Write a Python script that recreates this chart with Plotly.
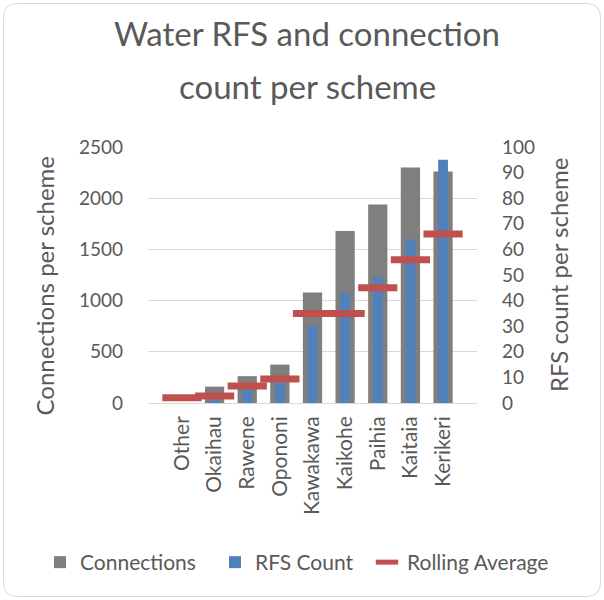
import plotly.graph_objects as go

# Water schemes, ordered by connection count
schemes = ["Other", "Okaihau", "Rawene", "Opononi", "Kawakawa",
           "Kaikohe", "Paihia", "Kaitaia", "Kerikeri"]
connections = [0, 160, 262, 375, 1080, 1680, 1940, 2300, 2260]
rfs_count = [0, 2, 5, 8, 30, 43, 49, 64, 95]
rolling_average = [2.1, 2.7, 6.6, 9.4, 35, 35, 45, 56, 66]

left_ticks = [0, 500, 1000, 1500, 2000, 2500]
right_ticks = list(range(0, 101, 10))

FONT = "Lato"
TEXT = "#595959"
GRID = "#d9d9d9"

W, H = 604, 600
L, R, T, B = 148, 127, 147, 197
PW, PH = W - L - R, H - T - B


def fx(px):
    """Pixel column -> paper x."""
    return (px - L) / PW


def fy(py):
    """Pixel row -> paper y."""
    return (H - B - py) / PH


def legend_at(left_px, mid_py):
    """One-entry legend placed in container pixels."""
    return dict(
        orientation="h", xref="container", yref="container",
        x=left_px / W, xanchor="left",
        y=1 - mid_py / H, yanchor="middle",
        font=dict(family=FONT, size=21, color=TEXT),
        bgcolor="rgba(0,0,0,0)",
    )


fig = go.Figure()

fig.add_trace(go.Bar(
    x=schemes, y=connections, name="Connections",
    marker=dict(color="#7f7f7f", line=dict(width=0)),
    width=0.59, yaxis="y", legend="legend",
))
fig.add_trace(go.Bar(
    x=schemes, y=rfs_count, name="RFS Count",
    marker=dict(color="#4f81bd", line=dict(width=0)),
    width=0.30, yaxis="y2", legend="legend2",
))
fig.add_trace(go.Scatter(
    x=schemes, y=rolling_average, name="Rolling Average",
    mode="markers", yaxis="y2", legend="legend3",
    marker=dict(symbol="line-ew", size=28,
                line=dict(color="#c0504d", width=7), color="#c0504d"),
))

# Rounded chart border
x0, x1 = fx(3.5), fx(600.5)
y0, y1 = fy(596.5), fy(3.5)
rx, ry = 14 / PW, 14 / PH
border = (
    f"M{x0 + rx},{y1} L{x1 - rx},{y1} Q{x1},{y1} {x1},{y1 - ry} "
    f"L{x1},{y0 + ry} Q{x1},{y0} {x1 - rx},{y0} "
    f"L{x0 + rx},{y0} Q{x0},{y0} {x0},{y0 + ry} "
    f"L{x0},{y1 - ry} Q{x0},{y1} {x0 + rx},{y1} Z"
)

fig.update_layout(
    width=W, height=H,
    margin=dict(l=L, r=R, t=T, b=B, pad=0, autoexpand=False),
    paper_bgcolor="white", plot_bgcolor="white",
    barmode="overlay",
    font=dict(family=FONT, color=TEXT, size=19),
    showlegend=True,
    legend=legend_at(40, 562.5),
    legend2=legend_at(215, 562.5),
    legend3=legend_at(367, 562.5),
    xaxis=dict(
        type="category", categoryorder="array", categoryarray=schemes,
        tickangle=-90, tickfont=dict(family=FONT, size=21, color=TEXT),
        showgrid=False, showline=False, zeroline=False, ticks="",
        ticklabelstandoff=8, automargin=False,
    ),
    yaxis=dict(
        range=[0, 2500.5], tickvals=left_ticks,
        tickfont=dict(family=FONT, size=19, color=TEXT),
        showgrid=True, gridcolor=GRID, gridwidth=1.3,
        zeroline=True, zerolinecolor=GRID, zerolinewidth=1.3,
        showline=False, ticks="", ticklabelstandoff=24, automargin=False,
    ),
    yaxis2=dict(
        range=[0, 100.02], tickvals=right_ticks,
        overlaying="y", side="right",
        tickfont=dict(family=FONT, size=19, color=TEXT),
        showgrid=False, zeroline=False, showline=False, ticks="",
        ticklabelstandoff=24, automargin=False,
    ),
    shapes=[dict(type="path", xref="paper", yref="paper", path=border,
                 line=dict(color=GRID, width=1), fillcolor="rgba(0,0,0,0)",
                 layer="below")],
    annotations=[
        dict(text="Water RFS and connection", xref="paper", yref="paper",
             x=fx(307), y=fy(33), xanchor="center", yanchor="middle",
             showarrow=False, font=dict(family=FONT, size=33, color=TEXT)),
        dict(text="count per scheme", xref="paper", yref="paper",
             x=fx(307), y=fy(86), xanchor="center", yanchor="middle",
             showarrow=False, font=dict(family=FONT, size=33, color=TEXT)),
        dict(text="Connections per scheme", xref="paper", yref="paper",
             x=fx(44), y=fy(286.5), xanchor="center", yanchor="middle",
             textangle=-90, showarrow=False,
             font=dict(family=FONT, size=24, color=TEXT)),
        dict(text="RFS count per scheme", xref="paper", yref="paper",
             x=fx(558), y=fy(275), xanchor="center", yanchor="middle",
             textangle=-90, showarrow=False,
             font=dict(family=FONT, size=24, color=TEXT)),
    ],
)

fig.write_html("out.html")
